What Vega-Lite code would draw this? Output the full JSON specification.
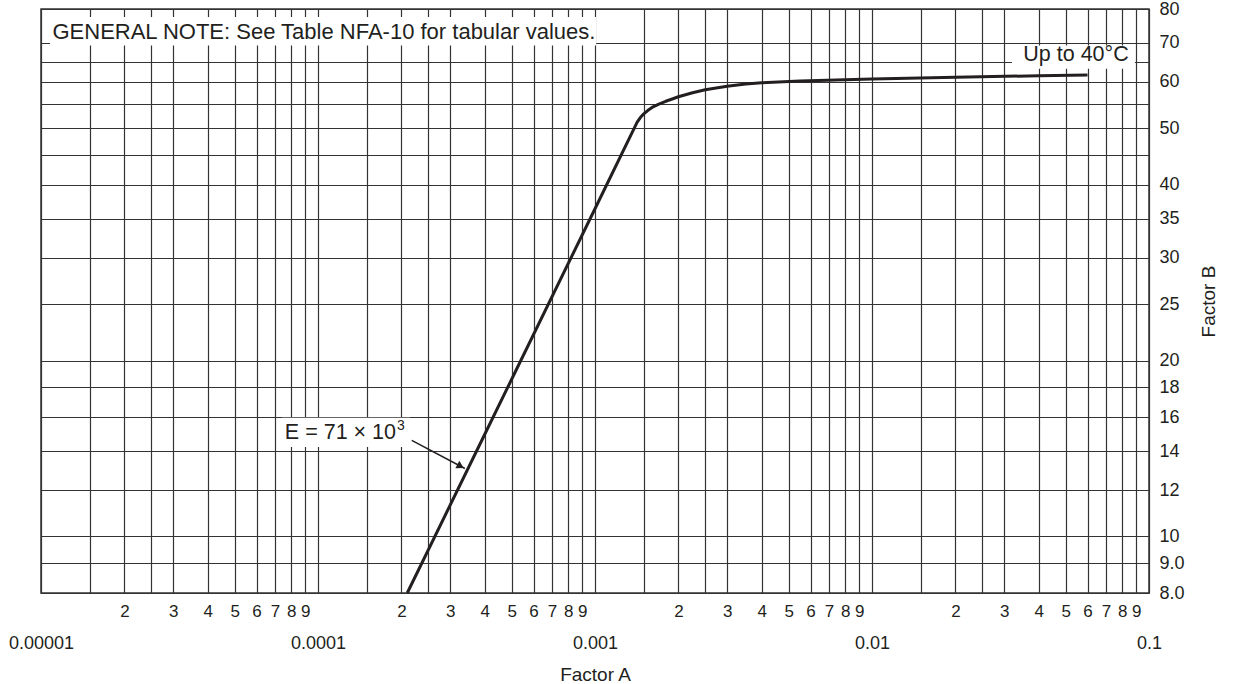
{
  "$schema": "https://vega.github.io/schema/vega-lite/v6.json",
  "width": 1108,
  "height": 584,
  "autosize": {"type": "none"},
  "padding": {"left": 41, "top": 9, "right": 85, "bottom": 91},
  "background": "white",
  "config": {
    "view": {"stroke": "#333333", "strokeWidth": 1.5},
    "font": "Liberation Sans"
  },
  "datasets": {
    "curve": [
      {"A": 0.00021, "B": 8.0},
      {"A": 0.0004, "B": 14.96},
      {"A": 0.001, "B": 36.4},
      {"A": 0.00142, "B": 51.2},
      {"A": 0.00146, "B": 52.2},
      {"A": 0.0015, "B": 52.9},
      {"A": 0.00155, "B": 53.6},
      {"A": 0.00162, "B": 54.4},
      {"A": 0.0017, "B": 55.0},
      {"A": 0.0018, "B": 55.6},
      {"A": 0.0019, "B": 56.1},
      {"A": 0.002, "B": 56.6},
      {"A": 0.00225, "B": 57.5},
      {"A": 0.0025, "B": 58.2},
      {"A": 0.003, "B": 59.0},
      {"A": 0.0035, "B": 59.5},
      {"A": 0.004, "B": 59.8},
      {"A": 0.0055, "B": 60.2},
      {"A": 0.01, "B": 60.7},
      {"A": 0.02, "B": 61.1},
      {"A": 0.04, "B": 61.5},
      {"A": 0.06, "B": 61.7}
    ],
    "boxes": [
      {"A": 0.00001078, "A2": 0.00101, "B": 77.5, "B2": 69.3},
      {"A": 0.032, "A2": 0.089, "B": 69.3, "B2": 63.2},
      {"A": 0.000074, "A2": 0.000215, "B": 15.97, "B2": 14.23}
    ],
    "arrow": [
      {"A": 0.000218, "B": 14.6, "A2": 0.000339, "B2": 13.07}
    ],
    "arrowhead": [
      {"A": 0.000327, "B": 13.19}
    ],
    "leftnotes": [
      {"A": 0.0000110, "B": 73.1, "label": "GENERAL NOTE: See Table NFA-10 for tabular values."}
    ],
    "notes": [
      {"A": 0.0545, "B": 66.8, "label": "Up to 40°C"}
    ],
    "emain": [
      {"A": 0.0001913, "B": 15.04, "label": "E = 71 × 10", "sup": "3"}
    ]
  },
  "encoding": {
    "x": {
      "field": "A",
      "type": "quantitative",
      "scale": {"type": "log", "domain": [0.00001, 0.1], "nice": false, "zero": false},
      "axis": {
        "values": [0.00001, 0.000015, 0.00002, 0.000025, 0.00003, 0.00004, 0.00005, 0.00006, 0.00007, 0.00008, 0.00009,
                   0.0001, 0.00015, 0.0002, 0.00025, 0.0003, 0.0004, 0.0005, 0.0006, 0.0007, 0.0008, 0.0009,
                   0.001, 0.0015, 0.002, 0.0025, 0.003, 0.004, 0.005, 0.006, 0.007, 0.008, 0.009,
                   0.01, 0.015, 0.02, 0.025, 0.03, 0.04, 0.05, 0.06, 0.07, 0.08, 0.09, 0.1],
        "grid": true,
        "gridColor": "#333333",
        "gridWidth": 1.2,
        "gridOpacity": 1,
        "ticks": false,
        "domain": false,
        "labelExpr": "abs(log(datum.value)/LN10 - round(log(datum.value)/LN10)) < 0.01 ? format(datum.value, '.5~f') : (indexof([2,3,4,5,6,7,8,9], round(datum.value / pow(10, floor(log(datum.value)/LN10 + 0.000001)) * 10) / 10) >= 0 ? format(round(datum.value / pow(10, floor(log(datum.value)/LN10 + 0.000001))), 'd') : '')",
        "labelPadding": {"condition": {"test": "abs(log(datum.value)/LN10 - round(log(datum.value)/LN10)) < 0.01", "value": 41}, "value": 10},
        "labelFontSize": {"condition": {"test": "abs(log(datum.value)/LN10 - round(log(datum.value)/LN10)) < 0.01", "value": 18}, "value": 17},
        "labelFlush": false,
        "labelOverlap": false,
        "labelBound": false,
        "labelFont": "Liberation Sans",
        "labelColor": "#231f20",
        "title": "Factor A",
        "titleFont": "Liberation Sans",
        "titleFontSize": 19,
        "titleFontWeight": "normal",
        "titleColor": "#231f20",
        "titlePadding": 13
      }
    },
    "y": {
      "field": "B",
      "type": "quantitative",
      "scale": {"type": "log", "domain": [8, 80], "nice": false, "zero": false},
      "axis": {
        "orient": "right",
        "values": [8, 9, 10, 12, 14, 16, 18, 20, 25, 30, 35, 40, 45, 50, 55, 60, 65, 70, 80],
        "grid": true,
        "gridColor": "#333333",
        "gridWidth": 1.2,
        "gridOpacity": 1,
        "ticks": false,
        "domain": false,
        "labelExpr": "indexof([45,55,65], datum.value) >= 0 ? '' : (datum.value < 10 ? format(datum.value, '.1f') : format(datum.value, 'd'))",
        "labelPadding": 10,
        "labelOverlap": false,
        "labelBound": false,
        "labelFlush": false,
        "labelFont": "Liberation Sans",
        "labelFontSize": 18,
        "labelColor": "#231f20",
        "title": "Factor B",
        "titleAngle": 270,
        "titleFont": "Liberation Sans",
        "titleFontSize": 19,
        "titleFontWeight": "normal",
        "titleColor": "#231f20",
        "titlePadding": 34
      }
    }
  },
  "layer": [
    {
      "data": {"name": "boxes"},
      "mark": {"type": "rect", "fill": "white", "stroke": null},
      "encoding": {
        "x2": {"field": "A2"},
        "y2": {"field": "B2"}
      }
    },
    {
      "data": {"name": "curve"},
      "mark": {"type": "line", "color": "#231f20", "strokeWidth": 3, "interpolate": "linear", "strokeJoin": "round"},
      "encoding": {"order": {"field": "A", "type": "quantitative"}}
    },
    {
      "data": {"name": "arrow"},
      "mark": {"type": "rule", "color": "#231f20", "strokeWidth": 1.5},
      "encoding": {
        "x2": {"field": "A2"},
        "y2": {"field": "B2"}
      }
    },
    {
      "data": {"name": "arrowhead"},
      "mark": {"type": "point", "shape": "triangle-right", "angle": 28, "size": 70, "filled": true, "color": "#231f20", "opacity": 1}
    },
    {
      "data": {"name": "leftnotes"},
      "mark": {"type": "text", "align": "left", "baseline": "middle", "font": "Liberation Sans", "fontSize": 22, "color": "#231f20"},
      "encoding": {"text": {"field": "label"}}
    },
    {
      "data": {"name": "notes"},
      "mark": {"type": "text", "align": "center", "baseline": "middle", "font": "Liberation Sans", "fontSize": 21.5, "color": "#231f20"},
      "encoding": {"text": {"field": "label"}}
    },
    {
      "data": {"name": "emain"},
      "mark": {"type": "text", "align": "right", "baseline": "middle", "font": "Liberation Sans", "fontSize": 21.5, "color": "#231f20"},
      "encoding": {"text": {"field": "label"}}
    },
    {
      "data": {"name": "emain"},
      "mark": {"type": "text", "align": "left", "baseline": "middle", "dx": 1, "dy": -7, "font": "Liberation Sans", "fontSize": 14, "color": "#231f20"},
      "encoding": {"text": {"field": "sup"}}
    }
  ]
}
